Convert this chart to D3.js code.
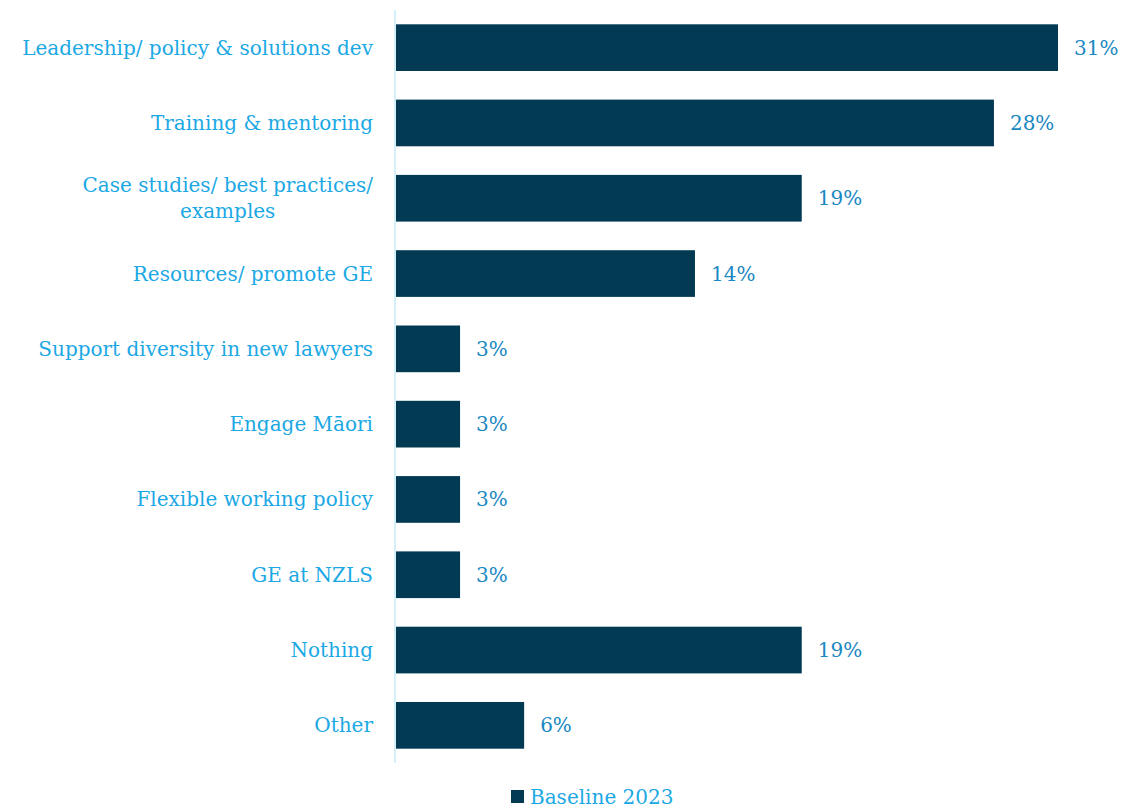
<!DOCTYPE html>
<html>
<head>
<meta charset="utf-8">
<script src="https://cdn.jsdelivr.net/npm/d3@7"></script>
<style>
  body { margin: 0; background: #fff; }
  svg { display: block; font-family: "DejaVu Serif", serif; }
</style>
</head>
<body>
<svg id="chart" width="1125" height="809"></svg>
<script>
// categories and values (percent)
const categories = [
    ["Leadership/ policy & solutions dev"],
    ["Training & mentoring"],
    ["Case studies/ best practices/", "examples"],
    ["Resources/ promote GE "],
    ["Support diversity in new lawyers"],
    ["Engage Māori"],
    ["Flexible working policy"],
    ["GE at NZLS"],
    ["Nothing"],
    ["Other"]
];
const values = [31, 28, 19, 14, 3, 3, 3, 3, 19, 6];
const seriesName = "Baseline 2023";

const barColor = "#023a54";
const labelColor = "#1ba8e4";
const valueColor = "#1a88c2";

const svg = d3.select("#chart");
const axisX = 395, axisTop = 10, axisBottom = 763;
const labelRight = 373;

const x = d3.scaleLinear().domain([0, 31]).range([axisX + 1, 1058]);
const y = d3.scaleBand()
    .domain(d3.range(values.length))
    .range([axisTop, axisBottom])
    .paddingInner(0.38)
    .paddingOuter(0.19);

// bars
svg.append("g").selectAll("rect")
    .data(values)
    .enter().append("rect")
    .attr("x", x(0))
    .attr("y", (d, i) => y(i))
    .attr("width", d => x(d) - x(0))
    .attr("height", y.bandwidth())
    .attr("fill", barColor);

// vertical axis line
svg.append("line")
    .attr("x1", axisX).attr("x2", axisX)
    .attr("y1", axisTop).attr("y2", axisBottom)
    .attr("stroke", "#c6ebf9")
    .attr("stroke-width", 1.5);

// category labels (wrapped lines are centred within the block)
const lab = svg.append("g").selectAll("text")
    .data(categories)
    .enter().append("text")
    .attr("fill", labelColor)
    .attr("font-size", "20px")
    .attr("y", (d, i) => y(i) + y.bandwidth() / 2 - (d.length - 1) * 13);
lab.selectAll("tspan")
    .data(d => d)
    .enter().append("tspan")
    .attr("dy", (d, i) => i ? 26 : "0.35em")
    .text(d => d);
lab.each(function () {
    const t = d3.select(this);
    const spans = t.selectAll("tspan");
    if (spans.size() === 1) {
        t.attr("text-anchor", "end");
        spans.attr("x", labelRight);
    } else {
        const w = d3.max(spans.nodes(), n => n.getComputedTextLength());
        t.attr("text-anchor", "middle");
        spans.attr("x", labelRight - w / 2);
    }
});

// value labels
svg.append("g").selectAll("text")
    .data(values)
    .enter().append("text")
    .attr("x", d => x(d) + 16)
    .attr("y", (d, i) => y(i) + y.bandwidth() / 2)
    .attr("dy", "0.35em")
    .attr("fill", valueColor)
    .attr("font-size", "20px")
    .text(d => d + "%");

// legend
const lg = svg.append("g").attr("transform", "translate(511,790)");
lg.append("rect").attr("width", 13).attr("height", 13).attr("fill", barColor);
lg.append("text")
    .attr("x", 19).attr("y", 7)
    .attr("dy", "0.35em")
    .attr("fill", labelColor)
    .attr("font-size", "20px")
    .text(seriesName);
</script>
</body>
</html>
